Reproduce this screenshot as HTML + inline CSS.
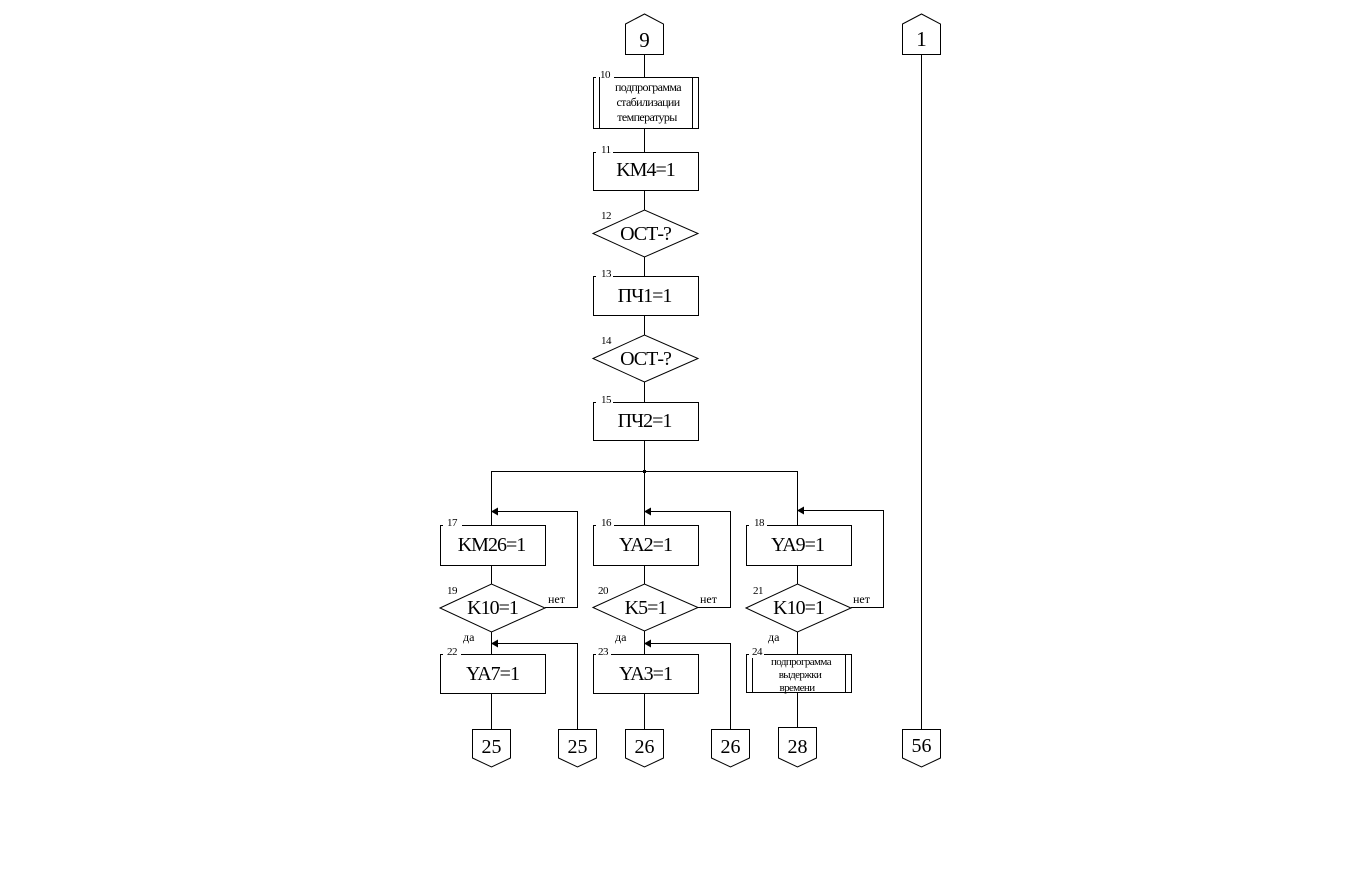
<!DOCTYPE html>
<html><head><meta charset="utf-8"><style>
html,body{margin:0;padding:0;background:#fff;}
svg{display:block;}
text{font-family:"Liberation Serif","Noto Serif CJK SC",serif;fill:#000;}
.m{font-size:20px;letter-spacing:-1px;text-anchor:middle;}
.n{font-size:11px;letter-spacing:-0.5px;}
.c{font-size:21px;text-anchor:middle;}
.s{font-size:12px;letter-spacing:-0.6px;text-anchor:middle;}
.t{font-size:11px;letter-spacing:-0.6px;text-anchor:middle;}
.l{font-size:12px;}
</style></head><body>
<svg width="1371" height="872" viewBox="0 0 1371 872" xmlns="http://www.w3.org/2000/svg">
<g stroke="#000" stroke-width="1" fill="none" shape-rendering="crispEdges">
<!-- main vertical -->
<line x1="644.5" y1="54" x2="644.5" y2="471"/>
<line x1="921.5" y1="54" x2="921.5" y2="729"/>
<!-- bus -->
<line x1="491.5" y1="471.5" x2="797.5" y2="471.5"/>
<line x1="491.5" y1="471" x2="491.5" y2="729"/>
<line x1="644.5" y1="471" x2="644.5" y2="729"/>
<line x1="797.5" y1="471" x2="797.5" y2="727"/>
<!-- loops -->
<polyline points="545,607.5 577.5,607.5 577.5,511.5 497,511.5"/>
<polyline points="577.5,729 577.5,643.5 497,643.5"/>
<polyline points="698,607.5 730.5,607.5 730.5,511.5 650,511.5"/>
<polyline points="730.5,729 730.5,643.5 650,643.5"/>
<polyline points="851,607.5 883.5,607.5 883.5,510.5 803,510.5"/>
</g>
<!-- arrowheads -->
<g fill="#000">
<polygon points="491,511.5 498,507.5 498,515.5"/>
<polygon points="491,643.5 498,639.5 498,647.5"/>
<polygon points="644,511.5 651,507.5 651,515.5"/>
<polygon points="644,643.5 651,639.5 651,647.5"/>
<polygon points="797,510.5 804,506.5 804,514.5"/>
<rect x="643" y="470" width="3" height="3"/>
</g>
<g stroke="#000" stroke-width="1" fill="#fff">
<!-- connectors up -->
<polygon points="625.5,24 644.5,14 663.5,24 663.5,54.5 625.5,54.5"/>
<polygon points="902.5,24 921.5,14 940.5,24 940.5,54.5 902.5,54.5"/>
<!-- connectors down -->
<polygon points="472.5,729.5 510.5,729.5 510.5,758 491.5,767 472.5,758"/>
<polygon points="558.5,729.5 596.5,729.5 596.5,758 577.5,767 558.5,758"/>
<polygon points="625.5,729.5 663.5,729.5 663.5,758 644.5,767 625.5,758"/>
<polygon points="711.5,729.5 749.5,729.5 749.5,758 730.5,767 711.5,758"/>
<polygon points="778.5,727.5 816.5,727.5 816.5,758 797.5,767 778.5,758"/>
<polygon points="902.5,729.5 940.5,729.5 940.5,758 921.5,767 902.5,758"/>
<!-- diamonds -->
<polygon points="593,233.5 644.5,210 698,233.5 644.5,257"/>
<polygon points="593,358.5 644.5,335 698,358.5 644.5,382"/>
<polygon points="440,608 491.5,584 545,608 491.5,632"/>
<polygon points="593,607.5 644.5,584 698,607.5 644.5,631"/>
<polygon points="746,608 797.5,584 851,608 797.5,632"/>
</g>
<!-- boxes: white fill then outline with gap for number -->
<g fill="#fff" stroke="none">
<rect x="593" y="77" width="105" height="51"/>
<rect x="593" y="152" width="105" height="38"/>
<rect x="593" y="276" width="105" height="39"/>
<rect x="593" y="402" width="105" height="38"/>
<rect x="440" y="525" width="105" height="40"/>
<rect x="593" y="525" width="105" height="40"/>
<rect x="746" y="525" width="105" height="40"/>
<rect x="440" y="654" width="105" height="39"/>
<rect x="593" y="654" width="105" height="39"/>
<rect x="746" y="654" width="105" height="38"/>
</g>
<g stroke="#000" stroke-width="1" fill="none" shape-rendering="crispEdges">
<path d="M596 77.5 H593.5 V128.5 H698.5 V77.5 H614"/>
<line x1="599.5" y1="77" x2="599.5" y2="128"/>
<line x1="692.5" y1="77" x2="692.5" y2="128"/>
<path d="M596 152.5 H593.5 V190.5 H698.5 V152.5 H613"/>
<path d="M596 276.5 H593.5 V315.5 H698.5 V276.5 H613"/>
<path d="M596 402.5 H593.5 V440.5 H698.5 V402.5 H613"/>
<path d="M443 525.5 H440.5 V565.5 H545.5 V525.5 H462"/>
<path d="M596 525.5 H593.5 V565.5 H698.5 V525.5 H614"/>
<path d="M749 525.5 H746.5 V565.5 H851.5 V525.5 H767"/>
<path d="M443 654.5 H440.5 V693.5 H545.5 V654.5 H461"/>
<path d="M596 654.5 H593.5 V693.5 H698.5 V654.5 H611"/>
<path d="M749 654.5 H746.5 V692.5 H851.5 V654.5 H764"/>
<line x1="752.5" y1="658" x2="752.5" y2="692"/>
<line x1="845.5" y1="654" x2="845.5" y2="692"/>
</g>
<!-- connector labels -->
<text class="c" x="644.5" y="47">9</text>
<text class="c" x="921.5" y="46">1</text>
<text class="c" x="491.5" y="753" style="font-size:20px">25</text>
<text class="c" x="577.5" y="753" style="font-size:20px">25</text>
<text class="c" x="644.5" y="753" style="font-size:20px">26</text>
<text class="c" x="730.5" y="753" style="font-size:20px">26</text>
<text class="c" x="797.5" y="753" style="font-size:20px">28</text>
<text class="c" x="921.5" y="752" style="font-size:20px">56</text>
<!-- subprogram 10 -->
<text class="s" x="648" y="91">подпрограмма</text>
<text class="s" x="648" y="106">стабилизации</text>
<text class="s" x="647" y="121">температуры</text>
<!-- main labels -->
<text class="m" x="645.5" y="176">KM4=1</text>
<text class="m" x="645.5" y="240">ОСТ-?</text>
<text class="m" x="644.5" y="302">ПЧ1=1</text>
<text class="m" x="645.5" y="365">ОСТ-?</text>
<text class="m" x="644.5" y="427">ПЧ2=1</text>
<text class="m" x="491.5" y="551">KM26=1</text>
<text class="m" x="645.5" y="551">YA2=1</text>
<text class="m" x="797.5" y="551">YA9=1</text>
<text class="m" x="492.5" y="614">K10=1</text>
<text class="m" x="645.5" y="614">K5=1</text>
<text class="m" x="798.5" y="614">K10=1</text>
<text class="m" x="492.5" y="680">YA7=1</text>
<text class="m" x="645.5" y="680">YA3=1</text>
<!-- subprogram 24 -->
<text class="t" x="801" y="665">подпрограмма</text>
<text class="t" x="800" y="678">выдержки</text>
<text class="t" x="797" y="691">времени</text>
<!-- numbers -->
<text class="n" x="600" y="78">10</text>
<text class="n" x="601" y="153">11</text>
<text class="n" x="601" y="219">12</text>
<text class="n" x="601" y="277">13</text>
<text class="n" x="601" y="344">14</text>
<text class="n" x="601" y="403">15</text>
<text class="n" x="447" y="526">17</text>
<text class="n" x="601" y="526">16</text>
<text class="n" x="754" y="526">18</text>
<text class="n" x="447" y="594">19</text>
<text class="n" x="598" y="594">20</text>
<text class="n" x="753" y="594">21</text>
<text class="n" x="447" y="655">22</text>
<text class="n" x="598" y="655">23</text>
<text class="n" x="752" y="655">24</text>
<!-- yes/no -->
<text class="l" x="548" y="603">нет</text>
<text class="l" x="700" y="603">нет</text>
<text class="l" x="853" y="603">нет</text>
<text class="l" x="463" y="641">да</text>
<text class="l" x="615" y="641">да</text>
<text class="l" x="768" y="641">да</text>
</svg>
</body></html>
